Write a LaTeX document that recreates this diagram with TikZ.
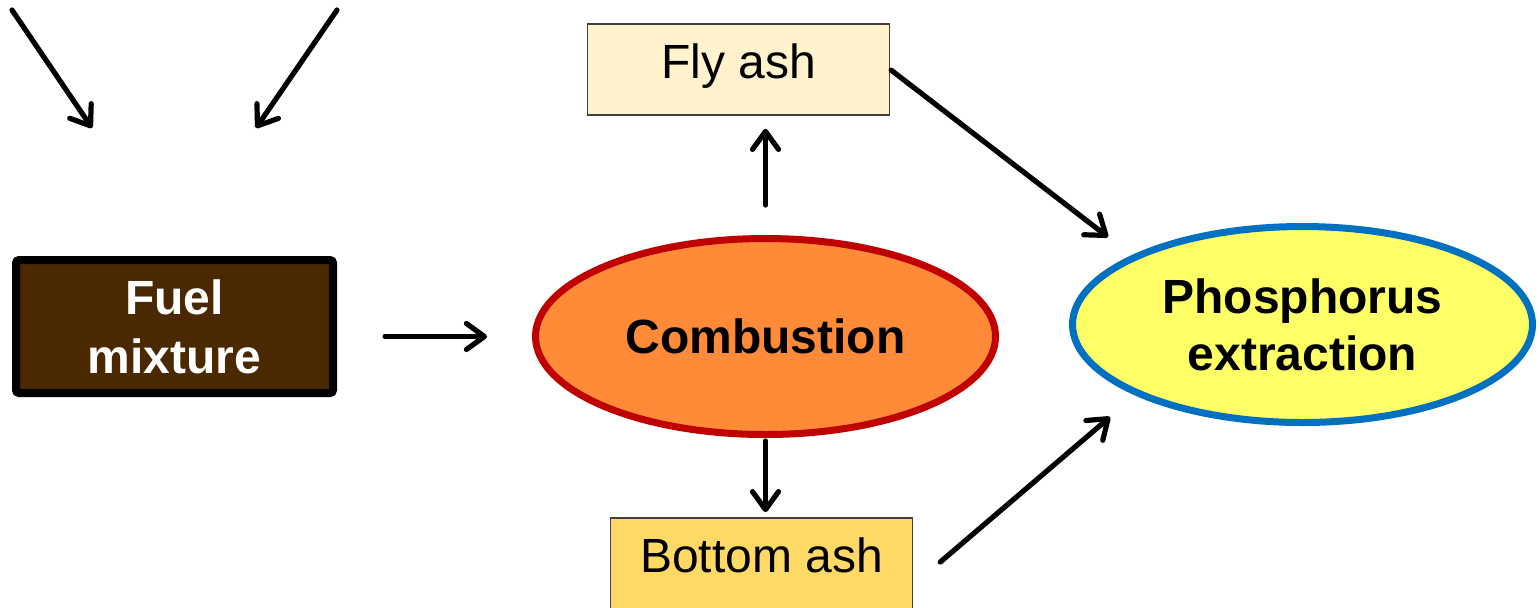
\documentclass[tikz,border=0pt]{standalone}
\usepackage{fontspec}
\setmainfont{Liberation Sans}
\usetikzlibrary{shapes.geometric,arrows.meta,calc}
\definecolor{fuelbrown}{HTML}{4A2800}
\definecolor{combfill}{HTML}{FF8A38}
\definecolor{combline}{HTML}{C00000}
\definecolor{phosfill}{HTML}{FFFF66}
\definecolor{phosline}{HTML}{0070C0}
\definecolor{flyfill}{HTML}{FFF2CC}
\definecolor{botfill}{HTML}{FFD966}
\definecolor{boxline}{HTML}{404040}
\tikzset{
  arr/.style={line width=2.6pt, line cap=round, -{Straight Barb[length=9pt,width=13pt,round]}},
  ashbox/.style={draw=boxline, line width=0.8pt, rectangle, minimum width=151pt, minimum height=45.5pt,
    inner sep=0pt, text height=0.92em, text depth=0.04em, font=\fontsize{24}{29}\selectfont},
  bigell/.style={ellipse, line width=3.5pt, minimum width=230pt, minimum height=98pt, inner sep=0pt,
    align=center, font=\fontsize{24}{28.5}\selectfont\bfseries},
}
\begin{document}
\begin{tikzpicture}[x=0.5pt,y=-0.5pt]
\useasboundingbox[fill=white] (0,0) rectangle (1540,607);
% nodes
\node[draw=black, fill=fuelbrown, line width=4pt, rounded corners=1.5pt, minimum width=158.5pt, minimum height=66.5pt,
  inner sep=0pt, align=center, text=white, font=\fontsize{24}{29.5}\selectfont\bfseries]
  (fuel) at (174.5,326.5) {Fuel\\mixture};
\node[bigell, draw=combline, fill=combfill] (comb) at (765.5,336.5) {Combustion};
\node[bigell, draw=phosline, fill=phosfill] (phos) at (1302.5,324.5) {Phosphorus\\extraction};
\node[ashbox, fill=flyfill] (fly) at (738.5,69.5) {Fly ash};
\node[ashbox, fill=botfill] (bot) at (761.5,563.5) {Bottom ash};
% free-end coordinates
\coordinate (t1s) at (12,10);
\coordinate (t1e) at (92,128);
\coordinate (t2s) at (337,10);
\coordinate (t2e) at (256,128);
\coordinate (p1) at (1108,237);
\coordinate (p2) at (1110,417);
% connectors
\draw[arr] (t1s) -- (t1e);
\draw[arr] (t2s) -- (t2e);
\draw[arr, shorten <=24pt, shorten >=22.5pt] (fuel.east |- comb.west) -- (comb.west);
\draw[arr, shorten <=15pt, shorten >=6.5pt] (comb.north) -- (comb.north |- fly.south);
\draw[arr, shorten <=1.5pt, shorten >=2.5pt] (comb.south) -- (comb.south |- bot.north);
\draw[arr, shorten <=0.5pt] (fly.east) -- (p1);
\draw[arr] ($(bot.east)+(27,-1.5)$) -- (p2);
\end{tikzpicture}
\end{document}
